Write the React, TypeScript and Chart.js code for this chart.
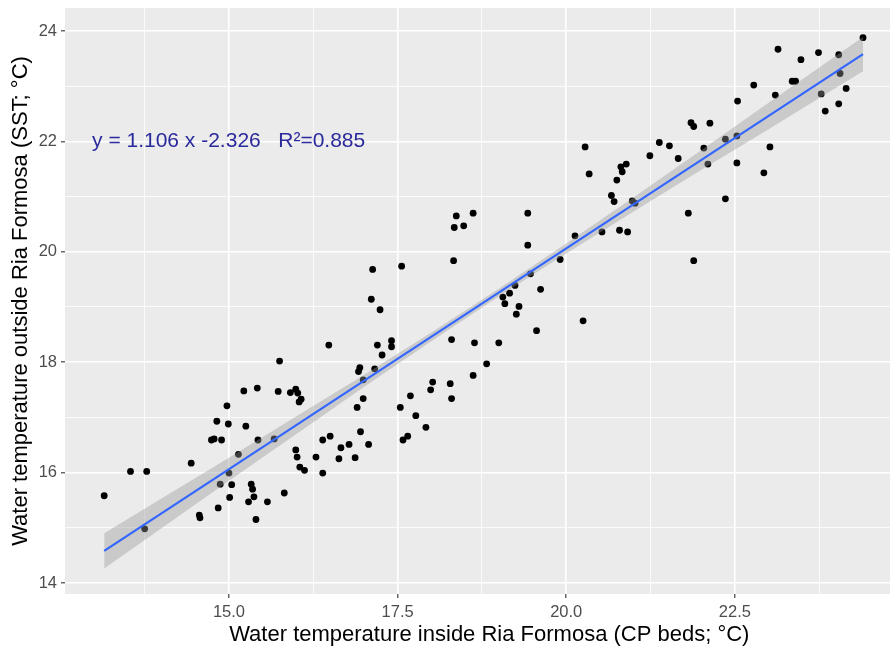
import React, { useEffect, useRef } from 'react';
import { Chart, registerables } from 'chart.js';

Chart.register(...registerables);

// Water temperature inside Ria Formosa (CP beds; °C)
const insideTemp = [
  13.15, 13.54, 13.78, 14.44, 14.97, 15.22, 15.42, 14.82, 14.99, 15.25,
  14.74, 14.78, 14.89, 15.43, 15.14, 15.0, 14.87, 15.04, 15.33, 15.35,
  15.01, 15.37, 15.29, 14.84, 14.56, 14.57, 15.4, 13.75,
  16.48, 15.75, 17.2, 17.41, 17.41, 17.27, 16.94, 16.92, 17.16, 16.99,
  18.02, 17.99, 15.73, 15.91, 15.99, 16.02, 16.07, 16.04, 16.99, 16.9,
  17.69, 17.54, 17.77, 17.92, 15.67, 16.95, 16.39, 16.5, 16.66, 16.78,
  17.07, 17.58, 17.65, 15.99, 16.01, 16.29, 16.63, 16.87, 16.05, 16.12,
  16.39, 15.82, 15.57,
  17.13, 17.56, 17.11, 17.24,
  18.37, 18.34, 18.48, 18.62, 19.43, 19.43, 18.33, 20.13, 19.91, 19.47,
  19.24, 19.16, 19.06, 19.09, 19.62, 19.3, 19.26, 19.56, 18.3, 18.64,
  19.0, 18.82, 18.62, 18.28, 18.3,
  21.85, 21.89, 22.13, 20.28, 20.34, 21.38, 21.53, 21.24, 21.66, 22.04,
  22.36, 22.53, 23.02, 22.53, 22.93, 22.1, 20.81, 20.89, 20.83, 20.75,
  20.67, 20.71, 20.98, 21.02, 22.36, 21.81, 20.53, 20.79, 20.91, 21.89,
  20.25,
  24.4, 23.14, 23.48, 23.74, 24.04, 23.35, 23.4, 24.06, 22.78, 23.1,
  23.78, 24.15, 22.54, 23.84, 24.04,
];

// Water temperature outside Ria Formosa (SST; °C)
const outsideTemp = [
  15.58, 16.02, 16.02, 16.17, 17.21, 17.48, 17.53, 16.93, 16.88, 16.84,
  16.59, 16.61, 16.59, 16.59, 16.33, 15.99, 15.79, 15.78, 15.79, 15.7,
  15.55, 15.56, 15.47, 15.36, 15.23, 15.18, 15.15, 14.98,
  18.31, 18.02, 18.31, 18.39, 18.28, 18.13, 17.9, 17.83, 17.88, 17.68,
  17.64, 17.5, 17.47, 17.45, 17.51, 17.44, 17.33, 17.28, 17.34, 17.18,
  17.39, 17.18, 17.03, 16.82, 16.61, 16.74, 16.59, 16.66, 16.45, 16.51,
  16.51, 16.59, 16.66, 16.41, 16.28, 16.28, 16.25, 16.27, 16.1, 16.04,
  15.99, 15.63, 15.47,
  19.68, 19.74, 19.14, 18.95,
  20.65, 20.44, 20.47, 20.7, 20.7, 20.12, 19.84, 20.29, 19.86, 19.6,
  19.39, 19.25, 19.18, 19.06, 19.32, 19.01, 18.87, 18.57, 18.41, 18.35,
  18.35, 17.97, 17.76, 17.61, 17.34,
  22.34, 22.27, 22.33, 21.9, 21.41, 21.98, 21.92, 21.74, 21.69, 21.88,
  22.04, 22.1, 21.9, 21.61, 21.43, 21.59, 21.54, 21.59, 21.45, 21.3,
  21.02, 20.91, 20.92, 20.88, 20.96, 20.7, 20.36, 20.39, 20.36, 19.84,
  18.75,
  23.88, 23.67, 23.48, 23.61, 23.57, 23.09, 23.09, 23.23, 23.02, 22.84,
  22.86, 22.96, 22.73, 22.55, 22.68,
];

// Fitted line end points and confidence band
const fitX = [13.15, 24.4];
const fitY = [14.58, 23.58];
const bandX = [13.15, 14, 15, 16, 17, 18, 19, 20, 21, 22, 23, 24, 24.4];
const bandLower = [14.26, 14.99, 15.85, 16.7, 17.55, 18.38, 19.19, 19.97, 20.73, 21.48, 22.22, 22.97, 23.27];
const bandUpper = [14.9, 15.53, 16.27, 17.02, 17.77, 18.54, 19.33, 20.15, 20.99, 21.84, 22.7, 23.55, 23.89];

const xMajorTicks = [15, 17.5, 20, 22.5];
const xMinorTicks = [13.75, 16.25, 18.75, 21.25, 23.75];
const yMajorTicks = [14, 16, 18, 20, 22, 24];
const yMinorTicks = [15, 17, 19, 21, 23];

const equationLabel = 'y = 1.106 x -2.326   R\u00B2=0.885';
const equationPos = { x: 12.97, y: 22.0 };
const xTitle = 'Water temperature inside Ria Formosa (CP beds; \u00B0C)';
const yTitle = 'Water temperature outside Ria Formosa (SST; \u00B0C)';

const FONT = '"Liberation Sans", Arial, sans-serif';

export default function App() {
  const canvasRef = useRef<HTMLCanvasElement | null>(null);

  useEffect(() => {
    const canvas = canvasRef.current;
    if (!canvas) return;

    const panelBg = {
      id: 'panelBg',
      beforeDraw(chart: any) {
        const { ctx, chartArea } = chart;
        ctx.save();
        ctx.fillStyle = '#EBEBEB';
        ctx.fillRect(chartArea.left, chartArea.top, chartArea.right - chartArea.left, chartArea.bottom - chartArea.top);
        ctx.restore();
      },
    };

    const equation = {
      id: 'equation',
      afterDatasetsDraw(chart: any) {
        const { ctx, scales } = chart;
        ctx.save();
        ctx.font = `21px ${FONT}`;
        ctx.fillStyle = '#2a2a9c';
        ctx.textAlign = 'left';
        ctx.textBaseline = 'middle';
        ctx.fillText(equationLabel, scales.x.getPixelForValue(equationPos.x), scales.y.getPixelForValue(equationPos.y));
        ctx.restore();
      },
    };

    const isMajor = (list: number[]) => (ctx: any) => !!ctx.tick && list.includes(ctx.tick.value);

    const chart = new Chart(canvas, {
      type: 'scatter',
      data: {
        datasets: [
          {
            type: 'scatter',
            data: insideTemp.map((x, i) => ({ x, y: outsideTemp[i] })),
            pointRadius: 3.4,
            pointHoverRadius: 3.4,
            backgroundColor: '#000000',
            borderWidth: 0,
            order: 3,
          } as any,
          {
            type: 'line',
            data: bandX.map((x, i) => ({ x, y: bandLower[i] })),
            pointRadius: 0,
            borderWidth: 0,
            borderColor: 'rgba(0,0,0,0)',
            fill: false,
            tension: 0,
            order: 2,
          } as any,
          {
            type: 'line',
            data: bandX.map((x, i) => ({ x, y: bandUpper[i] })),
            pointRadius: 0,
            borderWidth: 0,
            borderColor: 'rgba(0,0,0,0)',
            backgroundColor: 'rgba(153,153,153,0.4)',
            fill: '-1',
            tension: 0,
            order: 2,
          } as any,
          {
            type: 'line',
            data: fitX.map((x, i) => ({ x, y: fitY[i] })),
            pointRadius: 0,
            borderWidth: 2.2,
            borderColor: '#3366FF',
            fill: false,
            tension: 0,
            order: 1,
          } as any,
        ],
      },
      options: {
        animation: false,
        responsive: false,
        devicePixelRatio: 1,
        layout: { padding: { top: 8, right: 0, bottom: 0, left: 0 } },
        plugins: {
          legend: { display: false },
          tooltip: { enabled: false },
        },
        events: [],
        scales: {
          x: {
            type: 'linear',
            position: 'bottom',
            min: 12.569,
            max: 25.15,
            afterBuildTicks: (axis: any) => {
              axis.ticks = [...xMinorTicks, ...xMajorTicks].sort((a, b) => a - b).map((v) => ({ value: v }));
            },
            afterFit: (axis: any) => {
              axis.height = 53;
              axis.paddingLeft = 0;
              axis.paddingRight = 0;
            },
            ticks: {
              autoSkip: false,
              maxRotation: 0,
              padding: 5,
              color: '#4D4D4D',
              font: { family: FONT, size: 16.5 },
              callback: (v: any) => (xMajorTicks.includes(v) ? Number(v).toFixed(1) : ''),
            },
            grid: {
              color: '#FFFFFF',
              lineWidth: (ctx: any) => (isMajor(xMajorTicks)(ctx) ? 1.6 : 0.8),
              drawTicks: true,
              tickLength: 4,
              tickWidth: 1.1,
              tickColor: (ctx: any) => (isMajor(xMajorTicks)(ctx) ? '#333333' : 'rgba(0,0,0,0)'),
            } as any,
            border: { display: false },
            title: {
              display: true,
              text: xTitle,
              color: '#000000',
              font: { family: FONT, size: 22, lineHeight: 1 },
              padding: { top: 0, bottom: 1 },
            },
          },
          y: {
            type: 'linear',
            min: 13.8,
            max: 24.417,
            afterBuildTicks: (axis: any) => {
              axis.ticks = [...yMinorTicks, ...yMajorTicks].sort((a, b) => a - b).map((v) => ({ value: v }));
            },
            afterFit: (axis: any) => {
              axis.width = 65;
              axis.paddingTop = 0;
              axis.paddingBottom = 0;
            },
            ticks: {
              autoSkip: false,
              padding: 4,
              color: '#4D4D4D',
              font: { family: FONT, size: 16.5 },
              callback: (v: any) => (yMajorTicks.includes(v) ? String(v) : ''),
            },
            grid: {
              color: '#FFFFFF',
              lineWidth: (ctx: any) => (isMajor(yMajorTicks)(ctx) ? 1.6 : 0.8),
              drawTicks: true,
              tickLength: 4,
              tickWidth: 1.1,
              tickColor: (ctx: any) => (isMajor(yMajorTicks)(ctx) ? '#333333' : 'rgba(0,0,0,0)'),
            } as any,
            border: { display: false },
            title: {
              display: true,
              text: yTitle,
              color: '#000000',
              font: { family: FONT, size: 22, lineHeight: 1 },
              padding: { top: 10, bottom: 0 },
            },
          },
        },
      } as any,
      plugins: [panelBg, equation],
    });

    return () => {
      chart.destroy();
    };
  }, []);

  return (
    <div style={{ position: 'fixed', left: 0, top: 0, width: 890, height: 647, overflow: 'hidden', background: '#FFFFFF' }}>
      <canvas ref={canvasRef} width={917} height={647} style={{ display: 'block', width: 917, height: 647 }} />
    </div>
  );
}
